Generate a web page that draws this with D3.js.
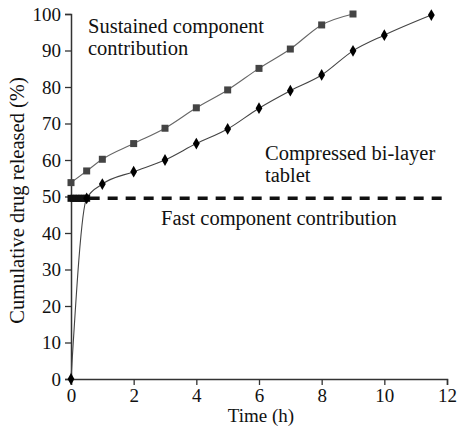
<!DOCTYPE html>
<html>
<head>
<meta charset="utf-8">
<script src="https://cdn.jsdelivr.net/npm/d3@7"></script>
<style>
  body { margin: 0; background: #fff; }
  text { font-family: "Liberation Serif", "DejaVu Serif", serif; fill: #111; }
</style>
</head>
<body>
<svg id="chart"></svg>
<script>
// values
const sustainedTime = [0, 0.5, 1, 2, 3, 4, 5, 6, 7, 8, 9];
const sustainedPct = [53.8, 57.0, 60.2, 64.5, 68.7, 74.3, 79.2, 85.1, 90.4, 97.0, 100];

const compressedTime = [0, 0.5, 1, 2, 3, 4, 5, 6, 7, 8, 9, 10, 11.5];
const compressedPct = [0, 49.5, 53.4, 56.8, 60.0, 64.5, 68.5, 74.2, 79.0, 83.3, 89.9, 94.2, 99.7];

const fastTime = [0, 0.083, 0.167, 0.25, 0.333, 0.417, 0.5];
const fastPct = [49.5, 49.5, 49.5, 49.5, 49.5, 49.5, 49.5];
const fastPlateau = 49.5;

const xTicks = [0, 2, 4, 6, 8, 10, 12];
const yTicks = [0, 10, 20, 30, 40, 50, 60, 70, 80, 90, 100];

const WIDTH = 458;
const HEIGHT = 431;
const M = { top: 14, right: 11, bottom: 52, left: 71 };

const svg = d3.select("#chart").attr("width", WIDTH).attr("height", HEIGHT);

const x = d3.scaleLinear().domain([0, 12]).range([M.left, WIDTH - M.right]);
const y = d3.scaleLinear().domain([0, 100]).range([HEIGHT - M.bottom, M.top]);

const zip = (ts, vs) => ts.map((t, i) => ({ t: t, v: vs[i] }));
const sustained = zip(sustainedTime, sustainedPct);
const compressed = zip(compressedTime, compressedPct);
const fast = zip(fastTime, fastPct);

// axes
const xAxis = svg.append("g")
  .attr("transform", "translate(0," + y(0) + ")")
  .call(d3.axisBottom(x).tickValues(xTicks).tickSizeOuter(0).tickSize(6).tickPadding(4));
const yAxis = svg.append("g")
  .attr("transform", "translate(" + x(0) + ",0)")
  .call(d3.axisLeft(y).tickValues(yTicks).tickSizeOuter(0).tickSize(6).tickPadding(4));
[xAxis, yAxis].forEach(function (g) {
  g.select(".domain").attr("stroke", "#333").attr("stroke-width", 1.5);
  g.selectAll(".tick line").attr("stroke", "#333").attr("stroke-width", 1.3);
  g.selectAll(".tick text")
    .attr("fill", "#111")
    .style("font-family", '"Liberation Serif", serif')
    .style("font-size", "19px");
});

const line = d3.line()
  .x(function (d) { return x(d.t); })
  .y(function (d) { return y(d.v); })
  .curve(d3.curveMonotoneX);

// fast component plateau (dashed)
svg.append("line")
  .attr("x1", x(fastTime[fastTime.length - 1]) + 3)
  .attr("x2", x(12))
  .attr("y1", y(fastPlateau))
  .attr("y2", y(fastPlateau))
  .attr("stroke", "#111")
  .attr("stroke-width", 3.5)
  .attr("stroke-dasharray", "10,8");

svg.append("path").datum(sustained)
  .attr("d", line)
  .attr("fill", "none")
  .attr("stroke", "#666")
  .attr("stroke-width", 1.1);

svg.append("path").datum(compressed)
  .attr("d", line)
  .attr("fill", "none")
  .attr("stroke", "#444")
  .attr("stroke-width", 1.1);

// markers
const S = 7;
svg.append("g").selectAll("rect")
  .data(sustained).enter().append("rect")
  .attr("x", function (d) { return x(d.t) - S / 2; })
  .attr("y", function (d) { return y(d.v) - S / 2; })
  .attr("width", S).attr("height", S)
  .attr("fill", "#444");

svg.append("g").selectAll("rect")
  .data(fast).enter().append("rect")
  .attr("x", function (d) { return x(d.t) - S / 2; })
  .attr("y", function (d) { return y(d.v) - S / 2; })
  .attr("width", S).attr("height", S)
  .attr("fill", "#111");

const diamond = d3.symbol().type(d3.symbolDiamond).size(40);
svg.append("g").selectAll("path")
  .data(compressed).enter().append("path")
  .attr("d", diamond)
  .attr("transform", function (d) { return "translate(" + x(d.t) + "," + y(d.v) + ")"; })
  .attr("fill", "#000");

// annotations
const note = function (tx, ty, lines) {
  const t = svg.append("text").attr("x", tx).attr("y", ty).style("font-size", "20.5px");
  lines.forEach(function (s, i) {
    t.append("tspan").attr("x", tx).attr("dy", i === 0 ? 0 : 22).text(s);
  });
};
note(88, 33, ["Sustained component", "contribution"]);
note(265, 160, ["Compressed bi-layer", "tablet"]);
note(161, 225, ["Fast component contribution"]);

// axis titles
svg.append("text")
  .attr("x", (x(0) + x(12)) / 2 + 2)
  .attr("y", 422)
  .attr("text-anchor", "middle")
  .style("font-size", "19px")
  .text("Time (h)");

svg.append("text")
  .attr("transform", "translate(24," + (y(50) + 4) + ") rotate(-90)")
  .attr("text-anchor", "middle")
  .style("font-size", "20.5px")
  .text("Cumulative drug released (%)");
</script>
</body>
</html>
